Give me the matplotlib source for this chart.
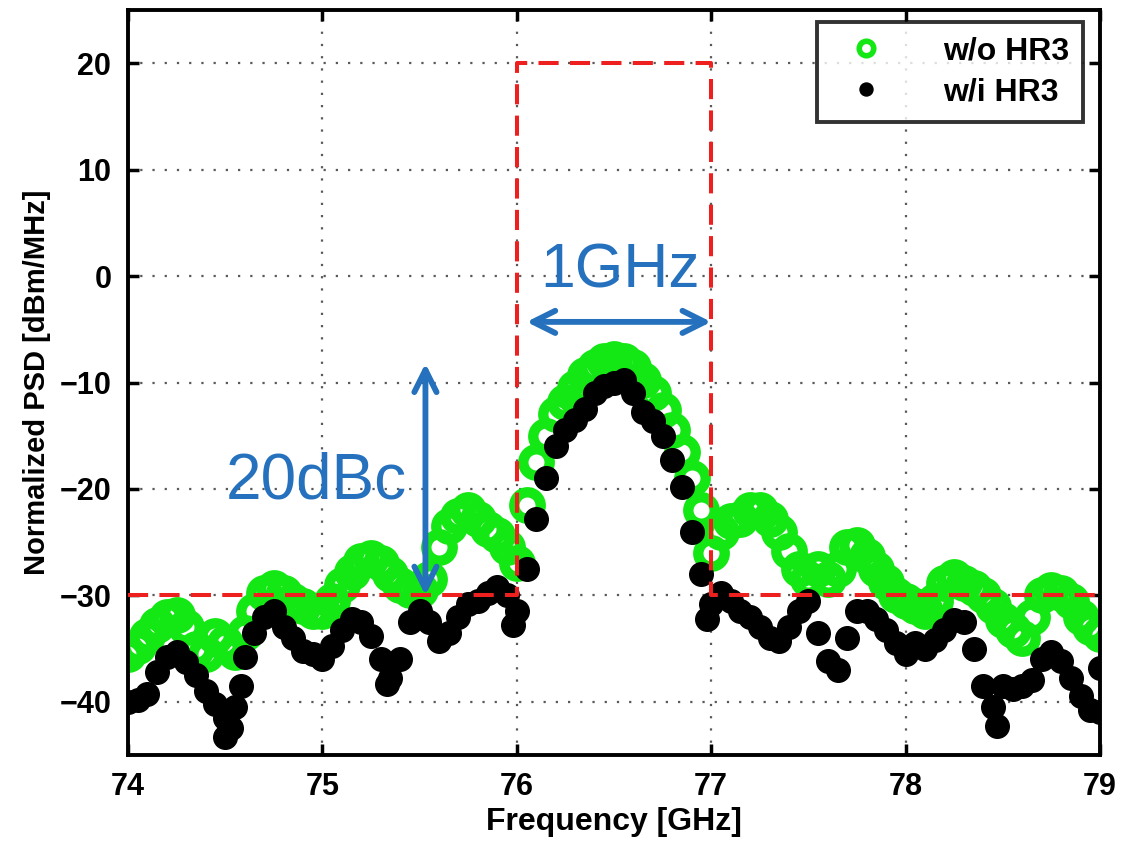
import numpy as np
import matplotlib
matplotlib.use("Agg")
import matplotlib.pyplot as plt

plt.rcParams['font.family'] = ['Liberation Sans', 'DejaVu Sans']

# Spectrum without the third-harmonic rejection (0.05 GHz grid)
freq_wo = np.linspace(74.0, 79.0, 101)
psd_wo = [
    -35.5, -34.8, -33.8, -32.8, -32.0, -31.8, -33.0, -35.0, -35.5, -33.8,
    -34.5, -35.3, -33.5, -31.5, -29.8, -29.3, -29.8, -30.5, -31.0, -31.5,
    -31.5, -30.5, -29.0, -27.8, -26.8, -26.5, -27.0, -28.0, -29.0, -29.5,
    -29.5, -28.5, -25.5, -23.5, -22.5, -22.0, -22.8, -23.8, -24.3, -25.5,
    -27.0, -21.5, -17.5, -15.0, -13.0, -11.8, -10.5, -9.3, -8.5, -8.0,
    -7.8, -8.0, -8.5, -9.8, -11.0, -12.6, -14.5, -16.5, -19.0, -22.0,
    -26.0, -24.0, -23.0, -22.8, -22.0, -22.0, -22.8, -24.0, -25.8, -27.5,
    -28.5, -27.5, -28.5, -27.5, -25.5, -25.3, -26.3, -27.5, -28.7, -30.0,
    -30.5, -31.0, -31.5, -30.5, -28.8, -28.3, -28.8, -29.3, -30.0, -31.0,
    -32.3, -33.3, -34.0, -32.0, -30.0, -29.5, -29.8, -30.5, -32.0, -33.0,
    -33.6,
]

# Spectrum with the third-harmonic rejection
freq_wi = [
    74.00, 74.05, 74.10, 74.15, 74.20, 74.25, 74.30, 74.35, 74.40, 74.45,
    74.50, 74.50, 74.53, 74.55, 74.58, 74.60, 74.65, 74.70, 74.75, 74.80,
    74.85, 74.90, 74.95, 75.00, 75.05, 75.10, 75.15, 75.20, 75.25, 75.30,
    75.33, 75.35, 75.40, 75.45, 75.50, 75.55, 75.60, 75.65, 75.70, 75.75,
    75.80, 75.85, 75.90, 75.95, 75.98, 76.00, 76.05, 76.10, 76.15, 76.20,
    76.25, 76.30, 76.35, 76.40, 76.45, 76.50, 76.55, 76.60, 76.65, 76.70,
    76.75, 76.80, 76.85, 76.90, 76.95, 76.98, 77.00, 77.05, 77.10, 77.15,
    77.20, 77.25, 77.30, 77.35, 77.40, 77.45, 77.50, 77.55, 77.60, 77.65,
    77.70, 77.75, 77.80, 77.85, 77.90, 77.95, 78.00, 78.05, 78.10, 78.15,
    78.20, 78.25, 78.30, 78.35, 78.40, 78.45, 78.47, 78.50, 78.55, 78.60,
    78.65, 78.70, 78.75, 78.80, 78.85, 78.90, 78.95, 79.00, 79.00,
]
psd_wi = [
    -40.0, -39.8, -39.3, -37.2, -35.8, -35.3, -36.3, -37.5, -39.0, -40.2,
    -41.5, -43.3, -42.5, -40.5, -38.5, -35.8, -33.5, -32.0, -31.5, -33.0,
    -34.0, -35.2, -35.5, -36.0, -34.8, -33.3, -32.2, -32.5, -33.8, -36.0,
    -38.3, -37.8, -36.0, -32.5, -31.5, -32.5, -34.3, -33.5, -32.0, -30.8,
    -30.5, -29.8, -29.2, -30.0, -32.8, -31.5, -27.5, -22.8, -19.0, -16.0,
    -14.5, -13.5, -12.5, -11.0, -10.3, -10.0, -9.8, -11.0, -12.8, -13.6,
    -15.0, -17.3, -19.8, -24.0, -28.0, -32.2, -30.8, -29.8, -30.5, -31.5,
    -32.0, -33.0, -34.0, -34.3, -33.0, -31.5, -30.5, -33.5, -36.2, -37.0,
    -34.0, -31.5, -31.5, -32.2, -33.3, -34.5, -35.5, -34.5, -35.0, -34.2,
    -33.3, -32.3, -32.5, -35.0, -38.5, -40.5, -42.3, -38.5, -38.8, -38.5,
    -38.0, -36.0, -35.3, -36.2, -37.8, -39.5, -40.8, -41.0, -36.8,
]

# Spectral mask outline
mask_f = [74.0, 76.0, 76.0, 77.0, 77.0, 79.0]
mask_p = [-30, -30, 20, 20, -30, -30]

xticks = [74, 75, 76, 77, 78, 79]
yticks = [-40, -30, -20, -10, 0, 10, 20]

green = '#14e814'
blue = '#2571bd'
red = '#ee1f1f'

fig = plt.figure(figsize=(11.23, 8.44), dpi=100)
ax = fig.add_axes([0.114, 0.1055, 0.8655, 0.8825])

ax.plot(freq_wo, psd_wo, linestyle='none', marker='o', markersize=19,
        markerfacecolor='none', markeredgecolor=green, markeredgewidth=7.5,
        label='w/o HR3', zorder=2)
ax.plot(freq_wi, psd_wi, linestyle='none', marker='o', markersize=17,
        markerfacecolor='black', markeredgecolor='black',
        label='w/i HR3', zorder=3)
ax.plot(mask_f, mask_p, color=red, linestyle=(0, (5.0, 2.8)), linewidth=2.9,
        zorder=4)

# Annotations: bandwidth and rejection
ax.annotate('', xy=(75.53, -30.0), xytext=(75.53, -8.2),
            arrowprops=dict(arrowstyle='<->', color=blue, lw=4.2,
                            mutation_scale=40, shrinkA=0, shrinkB=0),
            zorder=5)
ax.annotate('', xy=(76.05, -4.3), xytext=(77.0, -4.3),
            arrowprops=dict(arrowstyle='<->', color=blue, lw=4.2,
                            mutation_scale=40, shrinkA=0, shrinkB=0),
            zorder=5)
ax.text(76.53, 0.5, '1GHz', color=blue, fontsize=45, ha='center',
        va='center')
ax.text(74.97, -19.3, '20dBc', color=blue, fontsize=46, ha='center',
        va='center')

ax.set_xlim(74, 79)
ax.set_ylim(-45, 25)
ax.set_xticks(xticks)
ax.set_yticks(yticks)
ax.set_xticklabels([str(t) for t in xticks])
ax.set_yticklabels([str(t).replace('-', '\u2212') for t in yticks])
ax.tick_params(direction='in', length=8, width=2.5, top=True, right=True,
               labelsize=22, pad=12)
for lab in ax.get_xticklabels() + ax.get_yticklabels():
    lab.set_fontweight('bold')
for sp in ax.spines.values():
    sp.set_linewidth(2.8)

ax.grid(True, color='0.35', linestyle=(0, (1, 4.5)), linewidth=1.6)
ax.set_axisbelow(True)

ax.set_xlabel('Frequency [GHz]', fontsize=23, fontweight='bold', labelpad=4)
ax.set_ylabel('Normalized PSD [dBm/MHz]', fontsize=21, fontweight='bold',
              labelpad=6)

leg = ax.legend(loc='upper right', fontsize=23, frameon=True, fancybox=False,
                edgecolor='black', markerscale=0.55, handletextpad=1.3,
                borderpad=0.45, labelspacing=0.35, handlelength=2.2,
                borderaxespad=0, bbox_to_anchor=(0.983, 0.984))
leg.get_frame().set_linewidth(2.8)
leg.legend_handles[0].set_markeredgewidth(4)
for t in leg.get_texts():
    t.set_fontweight('bold')

fig.savefig('out.png', dpi=100)
